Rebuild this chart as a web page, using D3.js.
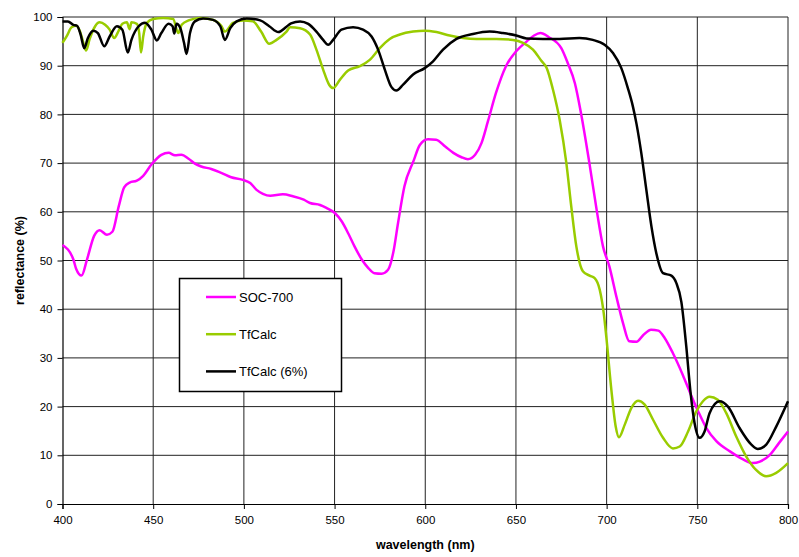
<!DOCTYPE html>
<html>
<head>
<meta charset="utf-8">
<script src="https://cdn.jsdelivr.net/npm/d3@7"></script>
<style>
  body { margin: 0; background: #fff; }
  svg { font-family: "Liberation Sans", Arial, sans-serif; }
</style>
</head>
<body>
<div id="chart"></div>
<script>
const width = 799;
const height = 557;
const margin = { top: 17, right: 11, bottom: 53, left: 62.5 };

// SOC-700 measurement
const socWl = [400, 406, 407.5, 410.5, 413.5, 417.5, 420.5, 424.5, 427.5, 431, 434, 437, 441, 444.5, 449, 454.5, 458.5, 462, 465.5, 469.5,
  473, 476.5, 482, 487.5, 493, 499, 503.5, 507, 510.5, 514.5, 521.5, 527, 533, 536.5, 542, 545.5, 550, 554, 557.5, 561,
  565, 568.5, 572, 576, 579.5, 582.5, 585, 588.5, 593.5, 597, 601.5, 606, 611, 615.5, 620, 623.5, 627.5, 631, 634.5, 639,
  644.5, 650, 656, 660, 663.5, 668, 675, 678.5, 682.5, 686, 690.5, 694.5, 698, 701.5, 705.5, 709, 712.5, 716.5, 720, 724.5,
  728.5, 732, 736.5, 742, 746.5, 750.5, 755, 760.5, 768, 775, 780.5, 784.5, 790, 795, 800];
const socVal = [53.2, 50.2, 48.3, 46.9, 50.2, 55.1, 56.2, 55.3, 55.9, 61.1, 65.0, 66.0, 66.4, 67.4, 69.7, 71.7, 72.1, 71.6, 71.7, 70.9,
  69.9, 69.3, 68.8, 68.0, 67.1, 66.6, 65.9, 64.5, 63.7, 63.3, 63.6, 63.2, 62.5, 61.8, 61.4, 60.8, 59.8, 58.0, 55.6, 52.9,
  50.2, 48.5, 47.4, 47.3, 48.1, 51.9, 57.7, 65.2, 70.4, 73.7, 74.9, 74.8, 73.4, 72.1, 71.2, 70.8, 71.7, 74.1, 78.5, 84.4,
  89.9, 92.9, 95.0, 96.2, 96.7, 95.9, 93.6, 90.6, 86.4, 80.0, 70.0, 60.4, 52.9, 48.8, 42.4, 37.2, 33.4, 33.3, 34.6, 35.8,
  35.6, 34.1, 31.0, 26.5, 22.4, 19.0, 15.6, 12.9, 10.8, 9.2, 8.4, 8.7, 10.1, 12.5, 14.9];

// TfCalc model
const tfWl = [400, 402.5, 405, 407.5, 409.5, 411.5, 413, 415, 418, 420.5, 423.5, 426, 428.5, 431, 433, 435.5, 437, 438, 441, 442.3,
  443.3, 444.5, 446.5, 450, 455.5, 461, 463.8, 465.7, 469.5, 476, 483, 487.5, 489.5, 494, 499.5, 505, 509.5, 514, 518, 523.5,
  525.5, 531, 536.5, 540, 543.7, 547, 549.2, 552.9, 557.5, 563.9, 569.4, 574.9, 580.4, 586, 593.3, 599.7, 606.2, 613.5, 620.8, 628.2,
  639.2, 648.4, 653.9, 659.4, 664, 667, 670.4, 674.1, 677.8, 680.5, 683.3, 686.9, 690.6, 693.4, 696.2, 698.4, 699.8, 702.6, 705, 706.8,
  710, 713.6, 717.3, 721, 725.6, 731.1, 736.6, 740.3, 744.9, 749.4, 753.1, 756.8, 761.3, 765.9, 771.4, 776.9, 782.4, 787.9, 793.5, 800];
const tfVal = [94.7, 96.2, 97.9, 98.2, 97.2, 94.7, 93.1, 95.5, 98.1, 98.9, 98.4, 97.4, 95.7, 97.2, 98.6, 98.9, 97.5, 98.9, 98.6, 96.7,
  92.7, 96.0, 98.8, 99.6, 99.8, 99.6, 96.7, 98.4, 99.3, 99.8, 99.4, 98.2, 97.0, 98.8, 99.3, 99.1, 97.0, 94.5, 95.3, 97.0,
  97.9, 97.7, 96.4, 93.3, 89.2, 86.1, 85.4, 87.1, 89.0, 89.9, 91.2, 93.6, 95.5, 96.4, 97.0, 97.2, 96.9, 96.2, 95.7, 95.5,
  95.5, 95.3, 94.7, 93.3, 91.0, 89.5, 85.1, 78.9, 70.0, 61.1, 52.9, 47.8, 46.9, 46.4, 44.0, 39.2, 34.4, 23.5, 15.9, 13.7,
  16.3, 19.7, 21.2, 20.4, 17.3, 13.6, 11.4, 11.8, 14.9, 19.0, 21.1, 22.0, 21.4, 18.7, 13.9, 9.8, 7.0, 5.7, 6.4, 8.4];

// TfCalc (6%) model
const tf6Wl = [400, 403, 406, 408, 410, 412, 414, 417, 419.5, 423, 426, 430, 433, 436, 438, 442, 445.5, 449, 452, 454.5,
  458.5, 460.7, 461.6, 462.9, 465, 467, 468.4, 470.3, 473, 477.5, 483, 487, 489.5, 492.5, 496, 501.5, 509, 514, 519, 523.5,
  526, 531, 535.5, 540, 543.7, 546.5, 549.2, 553.8, 560.2, 565.7, 570.4, 574, 577.7, 581.4, 584.1, 587.8, 593.3, 599.7, 604.3, 609.8,
  617.2, 626.3, 635.5, 642.8, 650.2, 655.8, 664.9, 674, 685, 692.4, 698.9, 703.5, 708.1, 711.7, 714.5, 716.5, 719.1, 721.9, 724.7, 727.4,
  731.1, 735.7, 738.4, 741.2, 743.9, 746.1, 748.5, 751.3, 754, 756.8, 762.3, 766.9, 773.3, 779.8, 783.4, 788, 793.5, 800];
const tf6Val = [99.1, 99.1, 98.4, 98.2, 96.4, 93.6, 95.7, 97.2, 96.7, 94.0, 96.0, 98.1, 97.4, 92.7, 95.3, 98.1, 98.8, 97.4, 95.2, 96.7,
  98.6, 98.1, 96.6, 98.6, 97.7, 94.7, 92.4, 96.7, 99.1, 99.7, 99.4, 98.1, 95.3, 97.7, 99.1, 99.7, 99.3, 98.1, 96.9, 98.0,
  98.7, 99.1, 98.6, 97.0, 95.3, 94.3, 95.3, 97.4, 97.9, 97.4, 96.0, 93.3, 89.2, 85.6, 84.9, 86.1, 88.2, 89.5, 90.9, 93.3,
  95.5, 96.5, 97.0, 96.7, 96.2, 95.6, 95.5, 95.5, 95.7, 95.3, 94.3, 92.6, 89.5, 85.4, 81.6, 78.0, 72.1, 64.5, 57.0, 51.5,
  47.4, 46.9, 45.4, 41.5, 32.4, 23.5, 16.6, 13.6, 14.9, 18.7, 21.1, 20.0, 15.6, 12.2, 11.3, 12.2, 15.9, 21.1];

const xTicks = [400, 450, 500, 550, 600, 650, 700, 750, 800];
const yTicks = [0, 10, 20, 30, 40, 50, 60, 70, 80, 90, 100];

const series = [
  { name: "SOC-700", wl: socWl, val: socVal, color: "#ff00ff" },
  { name: "TfCalc", wl: tfWl, val: tfVal, color: "#99cc00" },
  { name: "TfCalc (6%)", wl: tf6Wl, val: tf6Val, color: "#000000" }
];

const svg = d3.select("#chart").append("svg")
  .attr("width", width)
  .attr("height", height);

const x = d3.scaleLinear().domain([400, 800]).range([margin.left, width - margin.right]);
const y = d3.scaleLinear().domain([0, 100]).range([height - margin.bottom, margin.top]);

// grid
svg.append("g")
  .selectAll("line.h")
  .data(yTicks.filter(d => d > 0))
  .enter().append("line")
  .attr("x1", x(400)).attr("x2", x(800))
  .attr("y1", d => y(d)).attr("y2", d => y(d))
  .attr("stroke", "#222").attr("stroke-width", 1);

svg.append("g")
  .selectAll("line.v")
  .data(xTicks.filter(d => d > 400))
  .enter().append("line")
  .attr("x1", d => x(d)).attr("x2", d => x(d))
  .attr("y1", y(0)).attr("y2", y(100))
  .attr("stroke", "#222").attr("stroke-width", 1);

// axes
const xAxis = svg.append("g")
  .attr("transform", `translate(0,${y(0)})`)
  .call(d3.axisBottom(x).tickValues(xTicks).tickSize(5).tickPadding(7).tickFormat(d3.format("d")));
const yAxis = svg.append("g")
  .attr("transform", `translate(${x(400)},0)`)
  .call(d3.axisLeft(y).tickValues(yTicks).tickSize(5).tickPadding(5).tickFormat(d3.format("d")));

[xAxis, yAxis].forEach(g => {
  g.select(".domain").attr("stroke", "#000").attr("stroke-width", 1.2);
  g.selectAll(".tick line").attr("stroke", "#000");
  g.selectAll("text")
    .attr("font-family", "Liberation Sans, Arial, sans-serif")
    .attr("font-size", 11.5)
    .attr("fill", "#000");
});

// lines
const line = d3.line()
  .x(d => x(d[0]))
  .y(d => y(d[1]))
  .curve(d3.curveMonotoneX);

series.forEach(s => {
  const pts = s.wl.map((w, i) => [w, s.val[i]]);
  svg.append("path")
    .datum(pts)
    .attr("fill", "none")
    .attr("stroke", s.color)
    .attr("stroke-width", 2.5)
    .attr("stroke-linejoin", "round")
    .attr("d", line);
});

// axis titles
svg.append("text")
  .attr("x", (x(400) + x(800)) / 2)
  .attr("y", 549)
  .attr("text-anchor", "middle")
  .attr("font-weight", "bold")
  .attr("font-size", 12.5)
  .text("wavelength (nm)");

svg.append("text")
  .attr("transform", `translate(24,${(y(0) + y(100)) / 2}) rotate(-90)`)
  .attr("text-anchor", "middle")
  .attr("font-weight", "bold")
  .attr("font-size", 12.5)
  .text("reflectance (%)");

// legend
const legend = svg.append("g");
legend.append("rect")
  .attr("x", 179.5).attr("y", 278.5)
  .attr("width", 162).attr("height", 113)
  .attr("fill", "#fff")
  .attr("stroke", "#000")
  .attr("stroke-width", 1.5);

series.forEach((s, i) => {
  const ly = 297 + i * 37.2;
  legend.append("line")
    .attr("x1", 206).attr("x2", 236)
    .attr("y1", ly).attr("y2", ly)
    .attr("stroke", s.color).attr("stroke-width", 2.5);
  legend.append("text")
    .attr("x", 239).attr("y", ly + 4.5)
    .attr("font-size", 13)
    .text(s.name);
});
</script>
</body>
</html>
